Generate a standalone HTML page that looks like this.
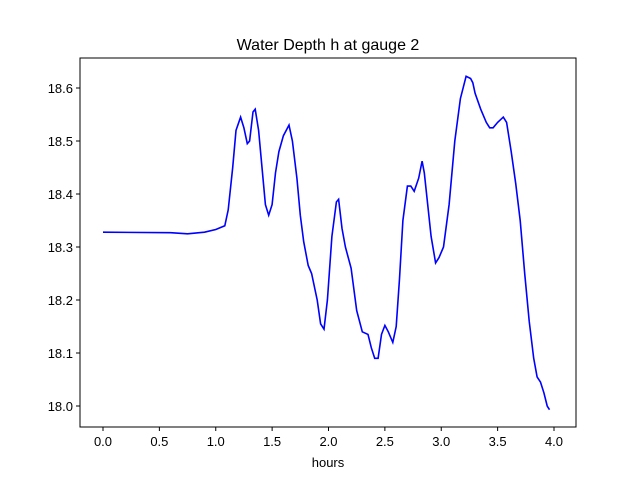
<!DOCTYPE html>
<html><head><meta charset="utf-8"><style>
body{margin:0;background:#fff;}
svg{display:block;font-family:"Liberation Sans","DejaVu Sans",sans-serif;}
</style></head><body>
<svg id="chart" width="640" height="480" viewBox="0 0 640 480">
<rect width="640" height="480" fill="#fff"/>
<text x="328" y="50" text-anchor="middle" font-size="16">Water Depth h at gauge 2</text>
<g id="ticks"></g>
<path id="line" fill="none" stroke="#0000ff" stroke-width="1.6"/>
<rect x="80" y="58" width="496" height="369" fill="none" stroke="#000" stroke-width="1"/>
<text x="328" y="467" text-anchor="middle" font-size="13">hours</text>
</svg>
<script>
const hours=[0,0.6,0.75,0.9,1.0,1.08,1.11,1.15,1.18,1.22,1.25,1.28,1.3,1.33,1.35,1.38,1.41,1.44,1.47,1.5,1.53,1.56,1.6,1.65,1.68,1.72,1.75,1.78,1.82,1.85,1.9,1.93,1.96,1.99,2.03,2.07,2.09,2.12,2.15,2.2,2.25,2.3,2.35,2.38,2.41,2.44,2.47,2.5,2.53,2.57,2.6,2.63,2.66,2.7,2.73,2.76,2.8,2.83,2.85,2.88,2.91,2.95,2.98,3.02,3.07,3.12,3.17,3.22,3.26,3.28,3.3,3.35,3.4,3.43,3.46,3.5,3.55,3.58,3.62,3.66,3.7,3.74,3.78,3.82,3.85,3.88,3.91,3.94,3.96];
const depth=[18.328,18.327,18.325,18.328,18.333,18.34,18.37,18.45,18.52,18.545,18.525,18.495,18.5,18.555,18.56,18.52,18.45,18.38,18.36,18.38,18.44,18.48,18.51,18.53,18.5,18.43,18.36,18.31,18.265,18.25,18.2,18.155,18.145,18.2,18.32,18.385,18.39,18.335,18.3,18.26,18.18,18.14,18.135,18.11,18.09,18.09,18.135,18.152,18.14,18.12,18.15,18.24,18.35,18.415,18.415,18.405,18.43,18.462,18.44,18.38,18.32,18.27,18.28,18.3,18.38,18.5,18.58,18.622,18.618,18.61,18.59,18.56,18.535,18.525,18.525,18.535,18.545,18.535,18.48,18.42,18.35,18.25,18.16,18.09,18.055,18.045,18.025,18.0,17.993];
const xTicks=[0,0.5,1,1.5,2,2.5,3,3.5,4];
const xTickLabels=["0.0","0.5","1.0","1.5","2.0","2.5","3.0","3.5","4.0"];
const yTicks=[18.0,18.1,18.2,18.3,18.4,18.5,18.6];
const yTickLabels=["18.0","18.1","18.2","18.3","18.4","18.5","18.6"];
const X=v=>103+v*112.75;
const Y=v=>406-(v-18.0)*530;
const ns="http://www.w3.org/2000/svg";
const g=document.getElementById('ticks');
function mk(t,a){const e=document.createElementNS(ns,t);for(const k in a)e.setAttribute(k,a[k]);return e;}
xTicks.forEach((v,i)=>{
  const l=mk('line',{x1:X(v),x2:X(v),y1:427,y2:431,stroke:'#000'});
  
  
  g.appendChild(l);
  const t=mk('text',{x:X(v),y:446,'text-anchor':'middle','font-size':'13'});
  
  
  t.textContent=xTickLabels[i];g.appendChild(t);
});
yTicks.forEach((v,i)=>{
  const l=mk('line',{x1:76,x2:80,y1:Y(v),y2:Y(v),stroke:'#000'});
  
  
  g.appendChild(l);
  const t=mk('text',{x:73,y:Y(v)+5,'text-anchor':'end','font-size':'13'});
  
  
  t.textContent=yTickLabels[i];g.appendChild(t);
});
document.getElementById('line').setAttribute('d',hours.map((h,i)=>(i?'L':'M')+X(h).toFixed(1)+','+Y(depth[i]).toFixed(1)).join(''));
</script>
</body></html>
